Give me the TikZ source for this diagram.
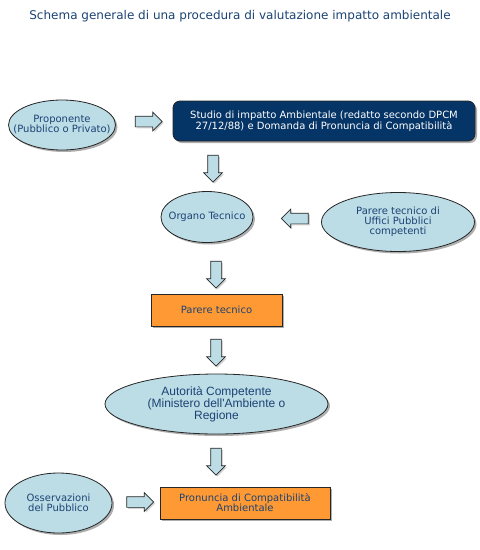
\documentclass[tikz,border=0pt]{standalone}
\usepackage{fontspec}
\setmainfont{DejaVu Sans}
\newfontfamily\arialfont{Liberation Sans}
\usetikzlibrary{shapes.geometric,shapes.arrows,shadows}
\definecolor{ellblue}{HTML}{BCDCE6}
\definecolor{txtblue}{HTML}{1C4374}
\definecolor{navy}{HTML}{053466}
\definecolor{orabox}{HTML}{FF9933}
\newcommand{\vfont}{\fontsize{10}{10}\selectfont}
\begin{document}
\begin{tikzpicture}
	[x=1pt,y=-1pt,
	shade/.style={drop shadow={shadow xshift=2pt,shadow yshift=-2pt,opacity=0.45,fill=black!70}},
	lbl/.style={text=txtblue,font=\vfont,align=center,inner sep=0pt},
	lblar/.style={text=txtblue,font=\arialfont\fontsize{12}{12}\selectfont,align=center,inner sep=0pt},
	ellbase/.style={ellipse,draw=black!85,line width=0.8pt,fill=ellblue,inner sep=0pt,shade},
	ell/.style={ellbase,label={[lbl]center:{#1}}},
	ellar/.style={ellbase,label={[lblar]center:{#1}}},
	orange/.style={rectangle,draw=black!85,line width=0.8pt,fill=orabox,text=txtblue,font=\vfont,align=center,inner sep=0pt,shade},
	study/.style={rectangle,rounded corners=7pt,draw=black!85,line width=0.8pt,fill=navy,text=white,font=\fontsize{10}{11}\selectfont,align=center,inner sep=0pt,shade},
	blk/.style={single arrow,draw=black!85,line width=0.7pt,fill=ellblue,inner sep=5pt,single arrow head extend=4pt,minimum height=27pt,drop shadow={shadow xshift=1.5pt,shadow yshift=-1.5pt,opacity=0.35}}]
\useasboundingbox[fill=white](0,0) rectangle (480,550);
\node[text=txtblue,font=\fontsize{12}{13}\selectfont](title) at (240,16) {Schema generale di una procedura di valutazione impatto ambientale};
% prima riga
\node[ell={Proponente\\(Pubblico o Privato)},minimum width=107pt,minimum height=50pt](prop) at (62,125) {};
\node[study,minimum width=302pt,minimum height=40pt](studio) at (324,121) {Studio di impatto Ambientale (redatto secondo DPCM\\27/12/88) e Domanda di Pronuncia di Compatibilità};
\node[blk,shape border rotate=0](a1) at (146,121.5) {};
% organo tecnico
\node[blk,shape border rotate=270](a2) at (213,166) {};
\node[ell={Organo Tecnico},minimum width=92pt,minimum height=51pt](organo) at (207,217) {};
\node[ell={Parere tecnico di\\Uffici Pubblici\\competenti},minimum width=153pt,minimum height=59pt](uffici) at (398,222) {};
\node[blk,shape border rotate=180](a3) at (297.5,218.5) {};
% parere
\node[blk,shape border rotate=270](a4) at (216,272) {};
\node[orange,minimum width=131pt,minimum height=32pt](parere) at (216.5,310) {Parere tecnico};
\node[blk,shape border rotate=270](a5) at (216,350) {};
\node[ellar={Autorità Competente\\(Ministero dell'Ambiente o\\Regione},minimum width=223pt,minimum height=60pt](autor) at (216.5,404) {};
% pronuncia
\node[blk,shape border rotate=270](a6) at (216,459) {};
\node[ell={Osservazioni\\del Pubblico},minimum width=107pt,minimum height=60pt](oss) at (58.5,503) {};
\node[blk,shape border rotate=0](a7) at (137.5,502) {};
\node[orange,minimum width=170pt,minimum height=32pt](pron) at (245,503) {Pronuncia di Compatibilità\\Ambientale};
\end{tikzpicture}
\end{document}
